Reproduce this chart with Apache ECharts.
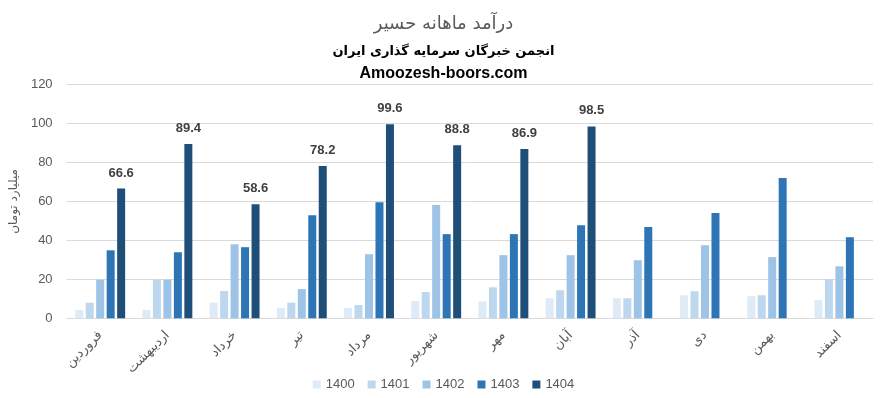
<!DOCTYPE html>
<html>
<head>
<meta charset="utf-8">
<script src="https://cdn.jsdelivr.net/npm/echarts@6/dist/echarts.min.js"></script>
<style>
html,body{margin:0;padding:0;background:#fff;}
#c{width:887px;height:398px;}
</style>
</head>
<body>
<div id="c"></div>
<script>
const months = ['فروردین','اردیبهشت','خرداد','تیر','مرداد','شهریور','مهر','آبان','آذر','دی','بهمن','اسفند'];
const seriesNames = ['1400','1401','1402','1403','1404'];
const v1400 = [4.3, 4.3, 8.0, 5.3, 5.3, 8.9, 8.7, 10.3, 10.3, 11.8, 11.3, 9.3];
const v1401 = [8.0, 19.8, 14.0, 8.0, 6.8, 13.5, 15.9, 14.4, 10.3, 13.9, 11.8, 20.0];
const v1402 = [19.8, 19.8, 38.0, 15.0, 32.9, 58.1, 32.4, 32.4, 29.8, 37.5, 31.4, 26.7];
const v1403 = [34.9, 33.9, 36.5, 52.9, 59.6, 43.2, 43.2, 47.8, 46.8, 54.0, 72.0, 41.6];
const v1404 = [66.6, 89.4, 58.6, 78.2, 99.6, 88.8, 86.9, 98.5, null, null, null, null];
const yTicks = [0, 20, 40, 60, 80, 100, 120];
const colors = ['#DEEBF7','#BDD7EE','#9DC3E6','#2E75B6','#1F4E79'];
const values = [v1400, v1401, v1402, v1403, v1404];

const chart = echarts.init(document.getElementById('c'));
const series = seriesNames.map((n, i) => ({
  name: n,
  type: 'bar',
  data: values[i],
  barWidth: 8,
  barGap: '31%',
  itemStyle: {color: colors[i]},
  label: i === 4 ? {
    show: true, position: 'top', distance: 9,
    color: '#404040', fontWeight: 'bold', fontSize: 13,
    fontFamily: 'Liberation Sans, Arial, sans-serif',
    formatter: p => p.value == null ? '' : p.value.toFixed(1)
  } : {show: false}
}));

chart.setOption({
  animation: false,
  backgroundColor: '#fff',
  title: [
    {text: 'درآمد ماهانه حسیر', left: 'center', top: 10,
     textStyle: {color: '#595959', fontSize: 18, fontWeight: 'normal', fontFamily: 'DejaVu Sans'}},
    {text: 'انجمن خبرگان سرمایه گذاری ایران', left: 'center', top: 40,
     textStyle: {color: '#000', fontSize: 13, fontWeight: 'bold', fontFamily: 'DejaVu Sans'}},
    {text: 'Amoozesh-boors.com', left: 'center', top: 61,
     textStyle: {color: '#000', fontSize: 16, fontWeight: 'bold', fontFamily: 'Liberation Sans, Arial, sans-serif'}}
  ],
  legend: {
    data: seriesNames,
    bottom: 2, left: 'center',
    itemWidth: 8, itemHeight: 8, itemGap: 13,
    icon: 'rect',
    textStyle: {color: '#595959', fontSize: 13, fontFamily: 'Liberation Sans, Arial, sans-serif'}
  },
  grid: {left: 66, right: 14, top: 84.5, height: 233.8, containLabel: false},
  xAxis: {
    type: 'category',
    data: months,
    axisLine: {lineStyle: {color: '#D9D9D9'}},
    axisTick: {show: false},
    axisLabel: {rotate: 45, interval: 0, color: '#595959', fontSize: 13, margin: 15, fontFamily: 'DejaVu Sans'}
  },
  yAxis: {
    type: 'value',
    min: yTicks[0], max: yTicks[yTicks.length - 1], interval: 20,
    name: 'میلیارد تومان',
    nameLocation: 'middle', nameGap: 44, nameRotate: 90,
    nameTextStyle: {color: '#595959', fontSize: 12, fontFamily: 'DejaVu Sans'},
    axisLine: {show: false}, axisTick: {show: false},
    axisLabel: {color: '#595959', fontSize: 13, margin: 14, fontFamily: 'Liberation Sans, Arial, sans-serif'},
    splitLine: {lineStyle: {color: '#D9D9D9'}}
  },
  series: series
});
</script>
</body>
</html>
